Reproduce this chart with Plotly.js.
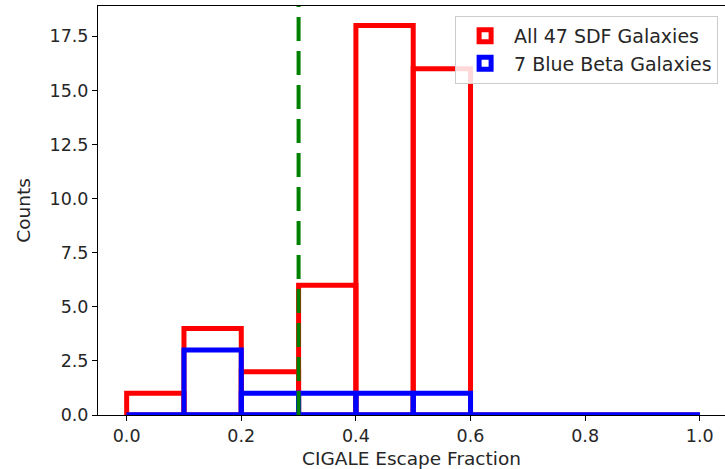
<!DOCTYPE html>
<html>
<head>
<meta charset="utf-8">
<script src="https://cdn.plot.ly/plotly-3.0.1.min.js"></script>
<style>html,body{margin:0;padding:0;background:#fff;overflow:hidden}</style>
</head>
<body>
<div id="chart" style="width:725px;height:469px"></div>
<script>
// Histogram bin edges (escape fraction)
const binEdges = [0.0, 0.1, 0.2, 0.3, 0.4, 0.5, 0.6, 0.7, 0.8, 0.9, 1.0];
// Counts per bin
const allSdfCounts = [1, 4, 2, 6, 18, 16, 0, 0, 0, 0];
const blueBetaCounts = [0, 3, 1, 1, 1, 1, 0, 0, 0, 0];
const seriesNames = ["All 47 SDF Galaxies", "7 Blue Beta Galaxies"];
const cutoff = 0.3;
const xTicks = [0.0, 0.2, 0.4, 0.6, 0.8, 1.0];
const yTicks = [0, 2.5, 5, 7.5, 10, 12.5, 15, 17.5];

const centers = allSdfCounts.map((_, i) => (binEdges[i] + binEdges[i + 1]) / 2);
const widths = allSdfCounts.map((_, i) => binEdges[i + 1] - binEdges[i]);

const tickFont = {family: "DejaVu Sans, sans-serif", size: 17.5, color: "#262626"};
const titleFont = {family: "DejaVu Sans, sans-serif", size: 18.5, color: "#262626"};
const legendFont = {family: "DejaVu Sans, sans-serif", size: 19, color: "#262626"};

const traces = [
  {
    type: "bar", x: centers, y: allSdfCounts, width: widths, name: seriesNames[0],
    marker: {color: "rgba(255,255,255,0)", line: {color: "#ff0000", width: 5}},
    hoverinfo: "skip"
  },
  {
    type: "bar", x: centers, y: blueBetaCounts, width: widths, name: seriesNames[1],
    marker: {color: "rgba(255,255,255,0)", line: {color: "#0000ff", width: 5}},
    hoverinfo: "skip"
  },
  {
    type: "scatter", mode: "lines", showlegend: false, hoverinfo: "skip",
    x: [binEdges[0], binEdges[binEdges.length - 1]], y: [0, 0],
    line: {color: "#0000ff", width: 5}
  }
];

const layout = {
  width: 725, height: 469,
  margin: {l: 98, r: 0, t: 6, b: 54},
  paper_bgcolor: "#fff", plot_bgcolor: "#fff",
  barmode: "overlay", bargap: 0,
  font: tickFont,
  showlegend: true,
  legend: {
    x: 0.989, xanchor: "right", y: 0.976, yanchor: "top",
    bgcolor: "rgba(255,255,255,0.85)", bordercolor: "#cccccc", borderwidth: 1,
    font: legendFont, traceorder: "normal", itemwidth: 48
  },
  xaxis: {
    range: [-0.05, 1.044], tickvals: xTicks, tickformat: ".1f",
    ticks: "outside", ticklen: 5, tickwidth: 1, tickcolor: "#000",
    showline: true, linecolor: "#000", linewidth: 1, mirror: true,
    showgrid: false, zeroline: false, tickfont: tickFont,
    title: {text: "CIGALE Escape Fraction", font: titleFont, standoff: 8}
  },
  yaxis: {
    range: [0, 18.9], tickvals: yTicks, tickformat: ".1f",
    ticks: "outside", ticklen: 5, tickwidth: 1, tickcolor: "#000",
    showline: true, linecolor: "#000", linewidth: 1,
    showgrid: false, zeroline: false, tickfont: tickFont,
    title: {text: "Counts", font: titleFont, standoff: 14}
  },
  shapes: [{
    type: "line", xref: "x", yref: "paper", x0: cutoff, x1: cutoff, y0: 0, y1: 1,
    line: {color: "#008000", width: 4, dash: "24px,10px"}, layer: "above"
  }]
};

Plotly.newPlot("chart", traces, layout, {displayModeBar: false, staticPlot: true});
</script>
</body>
</html>
